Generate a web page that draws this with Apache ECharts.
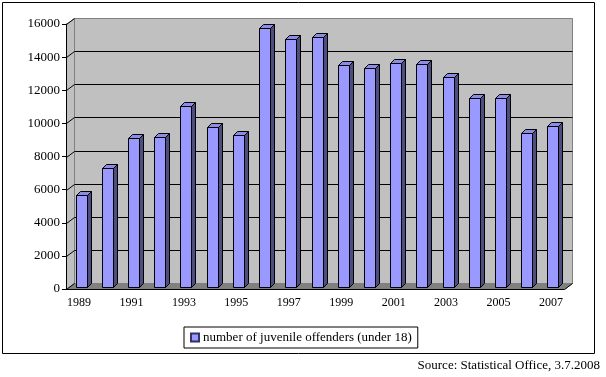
<!DOCTYPE html>
<html>
<head>
<meta charset="utf-8">
<script src="https://cdn.jsdelivr.net/npm/echarts@6/dist/echarts.min.js"></script>
<style>
  html, body { margin: 0; padding: 0; background: #fff; }
  #chart { width: 606px; height: 377px; }
</style>
</head>
<body>
<div id="chart"></div>
<script>
const years = ['1989', '1990', '1991', '1992', '1993', '1994', '1995', '1996', '1997', '1998',
  '1999', '2000', '2001', '2002', '2003', '2004', '2005', '2006', '2007'];
const offenders = [5550, 7200, 9000, 9050, 10900, 9650, 9200, 15650, 15000, 15100,
  13400, 13200, 13500, 13450, 12700, 11400, 11400, 9300, 9700];
const yTicks = [0, 2000, 4000, 6000, 8000, 10000, 12000, 14000, 16000];
const seriesName = 'number of juvenile offenders (under 18)';
const sourceNote = 'Source: Statistical Office, 3.7.2008';

// 3D depth of the walls / bars
const DX = 8, DY = -6;
const BAR_DX = 4, BAR_DY = -4;
const BAR_W = 11;
const FONT = 'Liberation Serif';

const chart = echarts.init(document.getElementById('chart'));

// back wall, left wall, floor and gridlines
function renderWalls(params, api) {
  const bandW = api.size([1, 0])[0];
  const p0 = api.coord([0, 0]);
  const pN = api.coord([years.length - 1, 0]);
  const left = Math.round(p0[0] - bandW / 2) + 0.5;
  const right = Math.round(pN[0] + bandW / 2) + 0.5;
  const bottom = Math.round(p0[1]) + 0.5;
  const top = Math.round(api.coord([0, yTicks[yTicks.length - 1]])[1]) + 0.5;
  const children = [];
  children.push({
    type: 'polygon',
    shape: { points: [[left, top], [left + DX, top + DY], [left + DX, bottom + DY], [left, bottom]] },
    style: { fill: '#c0c0c0', stroke: '#808080', lineWidth: 1 }
  });
  children.push({
    type: 'rect',
    shape: { x: left + DX, y: top + DY, width: right - left, height: bottom - top },
    style: { fill: '#c0c0c0', stroke: '#808080', lineWidth: 1 }
  });
  children.push({
    type: 'polygon',
    shape: { points: [[left, bottom], [right, bottom], [right + DX, bottom + DY], [left + DX, bottom + DY]] },
    style: { fill: '#808080', stroke: '#808080', lineWidth: 1 }
  });
  yTicks.forEach((v) => {
    const y = Math.round(api.coord([0, v])[1]) + 0.5;
    children.push({
      type: 'line',
      shape: { x1: left, y1: y, x2: left + DX, y2: y + DY },
      style: { stroke: '#000', lineWidth: 1 }
    });
    if (v !== 0 && v !== yTicks[yTicks.length - 1]) {
      children.push({
        type: 'line',
        shape: { x1: left + DX, y1: y + DY, x2: right + DX, y2: y + DY },
        style: { stroke: '#000', lineWidth: 1 }
      });
    }
  });
  children.push({
    type: 'line',
    shape: { x1: right, y1: bottom, x2: right + DX, y2: bottom + DY },
    style: { stroke: '#000', lineWidth: 1 }
  });
  return { type: 'group', children };
}

// 3D column: front, side, top
function renderBar(params, api) {
  const c = api.coord([api.value(0), api.value(1)]);
  const base = api.coord([api.value(0), 0]);
  const x0 = Math.round(c[0] - BAR_W / 2 + 2) + 0.5;
  const x1 = x0 + BAR_W;
  const yT = Math.round(c[1] - 2) + 0.5;
  const yB = Math.round(base[1] - 2) + 0.5;
  const line = { stroke: '#000', lineWidth: 1 };
  return {
    type: 'group',
    children: [
      {
        type: 'polygon',
        shape: { points: [[x1, yT], [x1 + BAR_DX, yT + BAR_DY], [x1 + BAR_DX, yB + BAR_DY], [x1, yB]] },
        style: Object.assign({ fill: '#4d4d80' }, line)
      },
      {
        type: 'polygon',
        shape: { points: [[x0, yT], [x0 + BAR_DX, yT + BAR_DY], [x1 + BAR_DX, yT + BAR_DY], [x1, yT]] },
        style: Object.assign({ fill: '#8c8ce6' }, line)
      },
      {
        type: 'rect',
        shape: { x: x0, y: yT, width: BAR_W, height: yB - yT },
        style: Object.assign({ fill: '#9999ff' }, line)
      }
    ]
  };
}

const option = {
  animation: false,
  grid: { left: 66, right: 42, top: 24, bottom: 88 },
  legend: {
    left: 184,
    top: 327,
    padding: [4, 6, 4, 6],
    borderColor: '#000',
    borderWidth: 1,
    backgroundColor: '#fff',
    icon: 'rect',
    itemWidth: 8,
    itemHeight: 8,
    itemGap: 4,
    textStyle: { fontFamily: FONT, fontSize: 13, color: '#000', padding: [0, 0, 0, -1] },
    data: [seriesName]
  },
  xAxis: {
    type: 'category',
    data: years,
    axisLine: { lineStyle: { color: '#000', width: 1 } },
    axisTick: { interval: 0, length: 4, lineStyle: { color: '#000' } },
    axisLabel: { interval: 1, margin: 8, fontFamily: FONT, fontSize: 12, color: '#000' },
    splitLine: { show: false },
    z: 10
  },
  yAxis: {
    type: 'value',
    min: 0,
    max: 16000,
    interval: 2000,
    axisLine: { show: true, lineStyle: { color: '#000', width: 1 } },
    axisTick: { show: true, length: 4, lineStyle: { color: '#000' } },
    axisLabel: {
      margin: 6,
      fontFamily: FONT,
      fontSize: 13,
      color: '#000',
      formatter: (v) => String(v)
    },
    splitLine: { show: false },
    z: 10
  },
  series: [
    {
      type: 'custom',
      name: 'walls',
      renderItem: renderWalls,
      data: [[0, 0]],
      silent: true,
      z: 1
    },
    {
      type: 'custom',
      name: seriesName,
      renderItem: renderBar,
      itemStyle: { color: '#9999ff', borderColor: '#333366', borderWidth: 1 },
      encode: { x: 0, y: 1 },
      data: years.map((y, i) => [i, offenders[i]]),
      z: 2
    }
  ],
  graphic: [
    {
      type: 'rect',
      shape: { x: 2.5, y: 2.5, width: 592, height: 351 },
      style: { fill: null, stroke: '#000', lineWidth: 1 },
      silent: true
    },
    {
      type: 'text',
      right: 6,
      top: 359,
      style: { text: sourceNote, font: '13px "Liberation Serif"', fill: '#000' }
    }
  ]
};

chart.setOption(option);
</script>
</body>
</html>
